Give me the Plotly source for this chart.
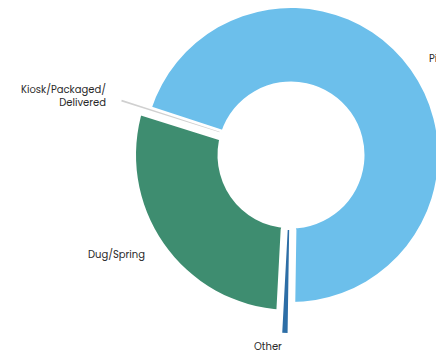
import math
import plotly.graph_objects as go

# Main drinking-water source, share of households (%)
categories = ["Kiosk/Packaged/Delivered", "Piped", "Other", "Dug/Spring"]
shares = [0.2, 70.2, 0.6, 29.0]
colors = ["#d0d0d0", "#6cbfeb", "#2d6ea6", "#3e8d70"]
label_text = ["Kiosk/Packaged/<br>Delivered", "Piped", "Other", "Dug/Spring"]

# each category is drawn as its own ring segment with its own radii
outer_r = [178, 147, 178, 155]
inner_r = [75, 73.5, 75, 73.5]
shift = [36, 0, 36, 0]        # thin spokes sit on a centre moved along their own direction
gap = [10, 0, 13, 0]          # white channel either side of the thin slices

W, H = 460, 356
CX, CY = 291, 155
ROTATION = 287.44
LABEL_PAD_BIG, LABEL_PAD_SMALL = 20, 14
CLEAR = "rgba(0,0,0,0)"


def domain(cx, cy, r):
    return dict(x=[max(0.0, (cx - r) / W), min(1.0, (cx + r) / W)],
                y=[max(0.0, 1 - (cy + r) / H), min(1.0, 1 - (cy - r) / H)])


# mid-angle of every slice, clockwise from 12 o'clock
total = sum(shares)
mids, acc = [], ROTATION
for v in shares:
    span = v / total * 360
    mids.append(acc + span / 2)
    acc += span
dirs = [(math.sin(math.radians(a)), -math.cos(math.radians(a))) for a in mids]

common = dict(labels=categories, values=shares, sort=False, direction="clockwise",
              rotation=ROTATION, textinfo="none", showlegend=False)


def segment(i, **extra):
    dx, dy = dirs[i]
    cx, cy = CX + shift[i] * dx, CY + shift[i] * dy
    r = outer_r[i] - shift[i]
    return go.Pie(**common, hole=(inner_r[i] - shift[i]) / r, domain=domain(cx, cy, r),
                  marker=dict(colors=[c if j == i else CLEAR for j, c in enumerate(colors)],
                              line=dict(width=0)),
                  **extra)


fig = go.Figure()
big = [i for i, g in enumerate(gap) if g == 0]
small = [i for i, g in enumerate(gap) if g > 0]

for i in big:
    fig.add_trace(segment(i, hovertemplate="%{label}: %{value}%<extra></extra>"))

# white channels around the thin slices
mask_r = max(outer_r[i] for i in big) + 5
fig.add_trace(go.Pie(
    **common, hole=min(inner_r) / mask_r, domain=domain(CX, CY, mask_r),
    marker=dict(colors=["white" if g else CLEAR for g in gap],
                line=dict(color="white", width=gap)),
    hoverinfo="skip"))

for i in small:
    fig.add_trace(segment(i, hovertemplate="%{label}: %{value}%<extra></extra>"))

# category labels outside the ring
for i, txt in enumerate(label_text):
    dx, dy = dirs[i]
    rho = outer_r[i] + (LABEL_PAD_SMALL if gap[i] else LABEL_PAD_BIG)
    px, py = CX + rho * dx, CY + rho * dy
    fig.add_annotation(
        x=px / W, y=1 - py / H, xref="paper", yref="paper", text=txt,
        showarrow=False, xanchor="right" if dx < 0 else "left", yanchor="middle",
        align="right" if dx < 0 else "left",
        font=dict(family="Poppins, Lato, sans-serif", size=10, color="#2a2a2a"))

fig.update_layout(width=W, height=H, autosize=False,
                  margin=dict(l=0, r=0, t=0, b=0),
                  paper_bgcolor="white", plot_bgcolor="white")

fig.write_html("out.html")
